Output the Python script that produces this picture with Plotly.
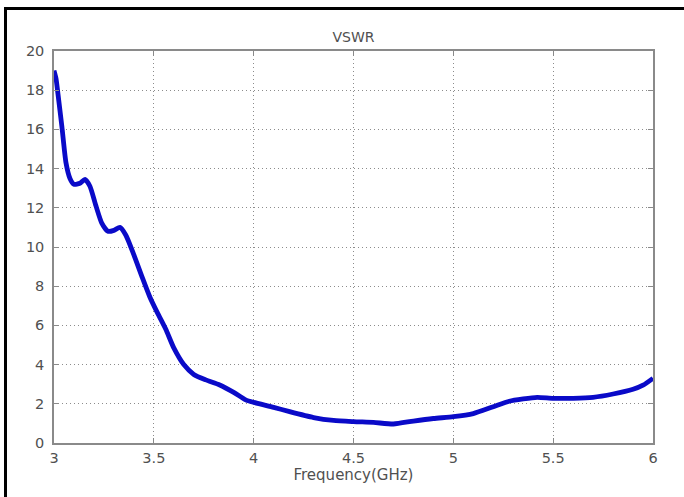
import plotly.graph_objects as go

freq_ghz = [3.00, 3.01, 3.02, 3.04, 3.06, 3.08, 3.10, 3.13, 3.155, 3.18, 3.21, 3.24,
            3.27, 3.30, 3.33, 3.36, 3.40, 3.44, 3.48, 3.52, 3.56, 3.60, 3.65, 3.70,
            3.76, 3.83, 3.90, 3.96, 4.00, 4.10, 4.18, 4.30, 4.40, 4.50, 4.60, 4.70,
            4.80, 4.90, 5.00, 5.10, 5.20, 5.28, 5.35, 5.42, 5.50, 5.60, 5.70, 5.80,
            5.90, 5.95, 6.00]
vswr = [19.0, 18.6, 17.8, 16.1, 14.3, 13.5, 13.2, 13.25, 13.45, 13.1, 12.1, 11.2,
        10.8, 10.85, 11.0, 10.6, 9.6, 8.5, 7.45, 6.6, 5.8, 4.85, 4.0, 3.5,
        3.22, 2.96, 2.58, 2.2, 2.07, 1.82, 1.6, 1.3, 1.15, 1.09, 1.05, 0.97,
        1.12, 1.25, 1.34, 1.5, 1.85, 2.13, 2.25, 2.33, 2.28, 2.28, 2.33, 2.5,
        2.74, 2.95, 3.3]

x_ticks = [3, 3.5, 4, 4.5, 5, 5.5, 6]
x_tick_text = ["3", "3.5", "4", "4.5", "5", "5.5", "6"]
y_ticks = [0, 2, 4, 6, 8, 10, 12, 14, 16, 18, 20]

W, H = 684, 497
L, R, T, B = 54, 31, 51, 54
pw, ph = W - L - R, H - T - B

fig = go.Figure()
fig.add_trace(go.Scatter(
    x=freq_ghz, y=vswr, mode="lines",
    line=dict(color="#0a0ac8", width=4.8, shape="spline", smoothing=0.6),
    showlegend=False, hoverinfo="skip"))

FAM = "DejaVu Sans, Verdana, sans-serif"
font = dict(family=FAM, size=14.5, color="#505050")
axis_common = dict(
    showgrid=True, gridcolor="#8c8c8c", gridwidth=1, griddash="1px,3px",
    showline=True, linecolor="#8a8a8a", linewidth=1.5, mirror="ticks",
    ticks="inside", ticklen=5, tickcolor="#8a8a8a", tickwidth=1,
    zeroline=False, tickfont=font)

fig.update_xaxes(range=[3, 6], tickvals=x_ticks, ticktext=x_tick_text,
                 ticklabelstandoff=1,
                 title=dict(text="Frequency(GHz)", font=dict(family=FAM, size=15, color="#505050"),
                            standoff=2),
                 **axis_common)
fig.update_yaxes(range=[0, 20], tickvals=y_ticks, ticklabelstandoff=5, **axis_common)

# outer black frame
def px_to_paper_x(px):
    return (px - L) / pw

def py_to_paper_y(py):
    return (H - B - py) / ph

fig.add_shape(type="rect", xref="paper", yref="paper",
              x0=px_to_paper_x(5.5), x1=px_to_paper_x(700),
              y0=py_to_paper_y(520), y1=py_to_paper_y(8.5),
              line=dict(color="black", width=3), fillcolor="rgba(0,0,0,0)",
              layer="below")

fig.update_layout(
    width=W, height=H,
    margin=dict(l=L, r=R, t=T, b=B, autoexpand=False),
    paper_bgcolor="white", plot_bgcolor="white",
    title=dict(text="VSWR", x=0.5 * (L + W - R) / W, xanchor="center",
               y=1 - 37 / H, yanchor="middle",
               font=dict(family=FAM, size=14, color="#505050")),
)

fig.write_html("out.html", config={"displayModeBar": False},
               post_script="document.body.style.margin='0';document.body.style.overflow='hidden';")
